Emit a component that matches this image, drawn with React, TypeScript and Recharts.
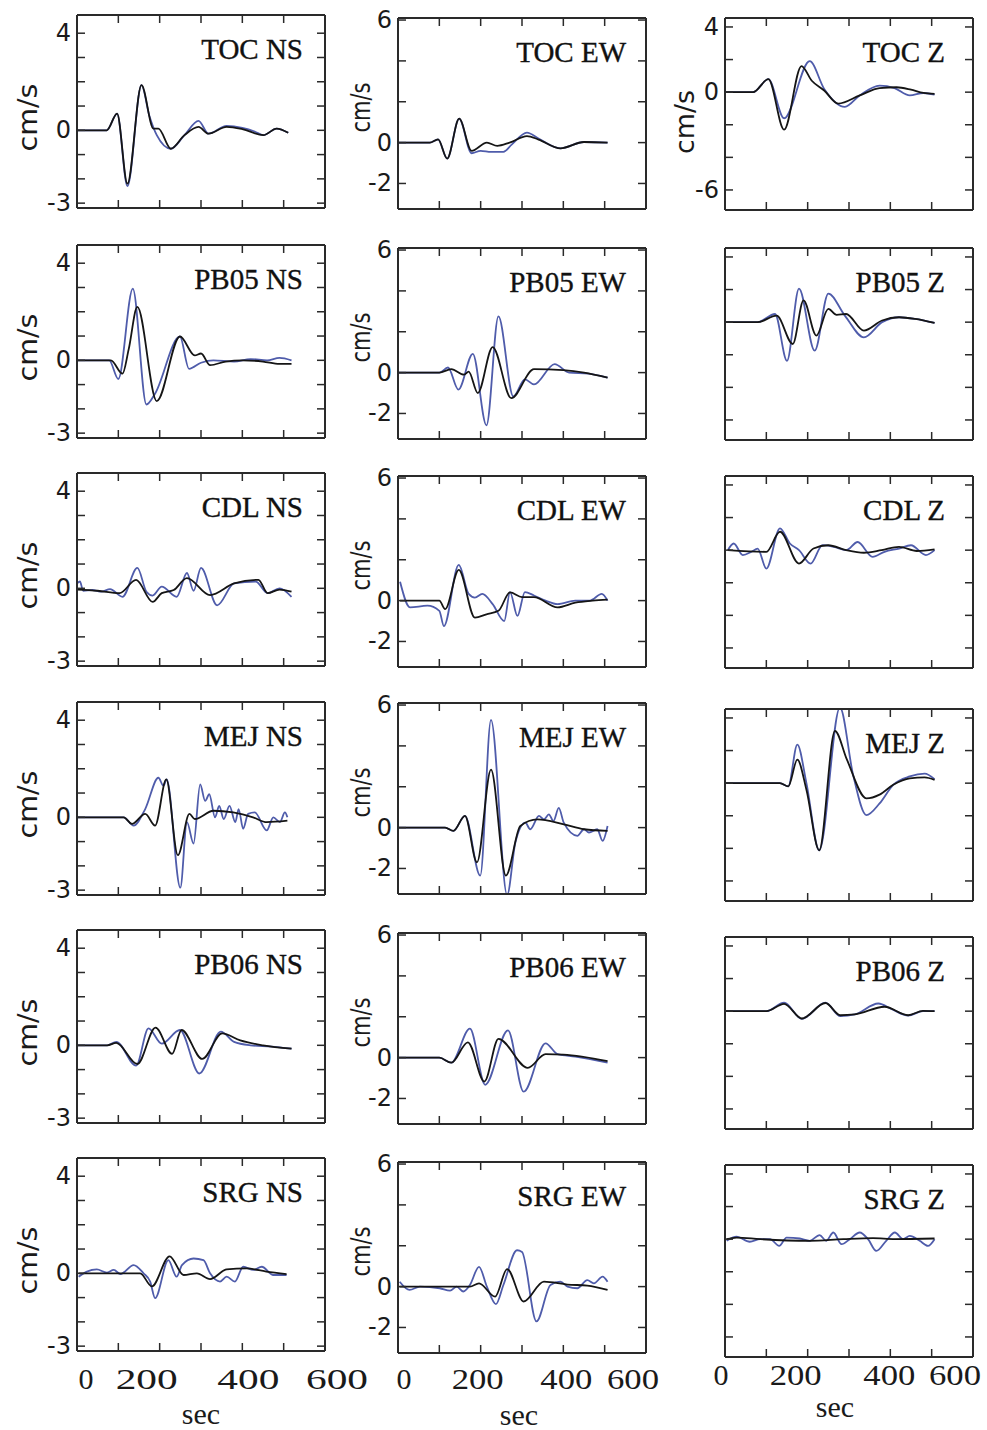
import React from "react";
import { LineChart, Line, XAxis, YAxis } from "recharts";

// Observed (blue) vs synthetic (black) velocity traces, [sec, cm/s] pairs
type Pt = [number, number];

const OBS = "#4f5cab";
const SYN = "#151515";
const FRAME = "#2a2a2a";
const SERIF = "'Liberation Serif', 'Times New Roman', serif";
const SANS = "'DejaVu Sans', 'Open Sans', sans-serif";

const stations = ["TOC", "PB05", "CDL", "MEJ", "PB06", "SRG"];
const components = ["NS", "EW", "Z"];

const xTicks = [0, 100, 200, 300, 400, 500, 600];
const xLabels = [0, 200, 400, 600];

const nsTicks = [-3, -2, -1, 0, 1, 2, 3, 4];
const nsLabels = [4, 0, -3];
const ewTicks = [-2, 0, 2, 4, 6];
const ewLabels = [6, 0, -2];
const zTicks = [-6, -4, -2, 0, 2, 4];
const zLabels = [4, 0, -6];

// ---- TOC
const tocNsObs: Pt[] = [[0, 0], [72, 0], [97, 0.69], [122, -2.3], [156, 1.86], [175, 0.6], [193, -0.2], [227, -0.76], [260, -0.2], [294, 0.39], [318, -0.14], [362, 0.18], [400, 0.1], [430, -0.05], [451, -0.2], [483, 0.07], [511, -0.1]];
const tocNsSyn: Pt[] = [[0, 0], [72, 0], [97, 0.69], [122, -2.2], [156, 1.86], [185, 0.07], [197, 0.07], [227, -0.76], [260, -0.2], [294, 0.14], [318, -0.14], [362, 0.14], [400, 0.05], [451, -0.2], [483, 0.07], [511, -0.1]];
const tocEwObs: Pt[] = [[0, 0], [77, 0], [97, 0.16], [119, -0.78], [148, 1.17], [178, -0.52], [200, -0.4], [225, -0.45], [255, -0.45], [275, -0.1], [312, 0.49], [340, 0.2], [393, -0.28], [450, 0.03], [507, 0]];
const tocEwSyn: Pt[] = [[0, 0], [77, 0], [97, 0.16], [119, -0.78], [148, 1.17], [178, -0.4], [215, 0], [240, -0.16], [270, 0], [312, 0.32], [340, 0.15], [393, -0.28], [450, 0.03], [507, 0]];
const tocZObs: Pt[] = [[0, 0], [68, 0], [105, 0.8], [143, -1.6], [205, 1.9], [240, 0.2], [290, -0.9], [326, -0.2], [374, 0.4], [410, 0.25], [447, -0.2], [480, -0.05], [507, -0.15]];
const tocZSyn: Pt[] = [[0, 0], [68, 0], [105, 0.8], [143, -2.3], [185, 1.6], [210, 0.7], [240, 0.1], [274, -0.7], [326, -0.2], [374, 0.25], [415, 0.3], [450, 0.15], [480, -0.05], [507, -0.1]];

// ---- PB05
const pb05NsObs: Pt[] = [[0, 0], [78, 0], [100, -0.77], [135, 2.95], [168, -1.82], [188, -1.4], [249, 0.98], [271, -0.35], [300, -0.1], [330, 0], [380, -0.05], [420, 0.05], [460, 0], [490, 0.1], [519, 0]];
const pb05NsSyn: Pt[] = [[0, 0], [82, 0], [110, -0.55], [125, 0.45], [146, 2.2], [193, -1.68], [249, 0.98], [285, 0.2], [300, 0.28], [322, -0.2], [360, -0.05], [400, 0], [450, -0.05], [490, -0.15], [519, -0.15]];
const pb05EwObs: Pt[] = [[0, 0], [100, 0], [121, 0.25], [146, -0.83], [181, 0.92], [214, -2.58], [243, 2.75], [279, -1.17], [307, -0.33], [329, -0.58], [379, 0.42], [414, 0], [460, -0.05], [507, -0.25]];
const pb05EwSyn: Pt[] = [[0, 0], [100, 0], [129, 0.17], [160, -0.1], [171, 0.05], [193, -1.0], [229, 1.25], [274, -1.25], [329, 0.17], [400, 0.12], [450, 0], [507, -0.25]];
const pb05ZObs: Pt[] = [[0, 0], [79, 0], [121, 0.5], [150, -2.37], [179, 2.06], [217, -1.75], [250, 1.75], [290, 0.4], [336, -0.93], [380, 0], [421, 0.3], [460, 0.2], [507, -0.05]];
const pb05ZSyn: Pt[] = [[0, 0], [79, 0], [125, 0.4], [164, -1.34], [190, 1.34], [221, -0.82], [250, 0.82], [270, 0.45], [293, 0.5], [336, -0.52], [380, 0.1], [421, 0.3], [460, 0.2], [507, -0.05]];

// ---- CDL
const cdlNsObs: Pt[] = [[0, 0.2], [7, 0.28], [15, -0.1], [37, -0.07], [59, -0.14], [80, -0.03], [110, -0.35], [146, 0.84], [168, -0.14], [183, -0.3], [205, 0.07], [241, -0.35], [266, 0.63], [282, -0.1], [300, 0.84], [339, -0.7], [380, 0.2], [432, 0.28], [461, -0.2], [490, 0], [519, -0.35]];
const cdlNsSyn: Pt[] = [[0, -0.05], [50, -0.1], [103, -0.2], [143, 0.35], [183, -0.56], [205, -0.2], [234, -0.07], [266, 0.42], [322, -0.28], [380, 0.2], [439, 0.35], [461, -0.2], [490, -0.05], [519, -0.14]];
const cdlEwObs: Pt[] = [[5, 0.92], [29, -0.33], [71, -0.25], [100, -0.5], [111, -1.25], [147, 1.75], [171, 0.33], [186, 0.15], [204, 0.33], [229, -0.17], [257, -1.0], [271, 0.42], [289, -0.75], [307, 0.42], [329, 0.25], [357, 0], [386, -0.17], [429, 0], [464, 0], [493, 0.33], [507, 0]];
const cdlEwSyn: Pt[] = [[5, 0], [100, 0], [114, -0.42], [147, 1.5], [186, -0.83], [214, -0.67], [243, -0.5], [271, 0.4], [300, 0.17], [329, 0.17], [386, -0.33], [429, -0.1], [471, 0], [507, 0.05]];
const cdlZObs: Pt[] = [[7, 0], [21, 0.41], [43, -0.3], [64, -0.1], [79, 0.1], [100, -1.13], [133, 1.34], [157, 0.41], [179, 0], [207, -0.82], [236, 0.31], [264, 0.2], [293, 0], [321, 0.5], [357, -0.41], [386, -0.1], [421, 0.1], [450, 0.3], [486, -0.3], [507, 0]];
const cdlZSyn: Pt[] = [[7, 0], [100, -0.1], [133, 1.13], [179, -0.82], [214, 0.1], [250, 0.3], [293, 0], [336, -0.16], [379, 0], [421, 0.2], [464, -0.05], [507, 0.05]];

// ---- MEJ
const mejNsObs: Pt[] = [[0, 0], [113, 0], [137, -0.34], [165, 0.34], [197, 1.63], [209, 1.3], [217, 1.56], [250, -2.9], [266, -0.2], [282, -1.08], [298, 1.36], [310, 0.68], [320, 0.95], [334, 0], [344, 0.47], [355, -0.07], [369, 0.47], [383, -0.2], [391, 0.34], [402, -0.47], [414, 0.14], [430, 0.2], [459, -0.54], [475, 0], [491, -0.2], [503, 0.2], [509, 0]];
const mejNsSyn: Pt[] = [[0, 0], [113, 0], [133, -0.27], [165, 0.14], [189, -0.34], [216, 1.56], [244, -1.56], [272, 0.14], [285, -0.07], [330, 0.27], [378, 0.2], [426, 0], [459, -0.2], [509, -0.14]];
const mejEwObs: Pt[] = [[0, 0], [114, 0], [134, -0.16], [162, 0.57], [199, -2.35], [225, 5.27], [264, -3.3], [284, -0.73], [308, 0.24], [320, -0.08], [341, 0.57], [353, 0.4], [365, 0.65], [376, 0.32], [389, 0.97], [401, 0.24], [434, -0.4], [450, -0.08], [462, -0.24], [482, -0.08], [495, -0.65], [507, 0.08]];
const mejEwSyn: Pt[] = [[0, 0], [114, 0], [134, -0.16], [162, 0.57], [191, -1.7], [225, 2.84], [261, -2.35], [296, 0.08], [337, 0.4], [401, 0.16], [450, -0.08], [507, -0.16]];
const mejZObs: Pt[] = [[0, 0], [133, 0], [153, -0.2], [175, 2.37], [197, 0], [228, -4.12], [278, 4.64], [310, 0.5], [342, -1.96], [374, -1.24], [407, -0.1], [447, 0.41], [483, 0.58], [507, 0.25]];
const mejZSyn: Pt[] = [[0, 0], [133, 0], [153, -0.2], [175, 1.44], [197, -0.4], [228, -4.12], [266, 3.2], [295, 1.44], [342, -0.93], [374, -0.7], [407, -0.1], [447, 0.3], [483, 0.35], [507, 0.2]];

// ---- PB06
const pb06NsObs: Pt[] = [[0, 0], [73, 0], [95, 0.14], [143, -0.84], [173, 0.7], [205, 0.07], [249, 0.63], [296, -1.16], [348, 0.56], [380, 0.14], [420, 0], [470, -0.05], [519, -0.14]];
const pb06NsSyn: Pt[] = [[0, 0], [73, 0], [95, 0.1], [146, -0.77], [190, 0.73], [230, -0.35], [253, 0.63], [303, -0.56], [351, 0.49], [395, 0.2], [450, 0], [519, -0.14]];
const pb06EwObs: Pt[] = [[0, 0], [100, 0], [129, -0.25], [174, 1.42], [211, -1.33], [266, 1.33], [304, -1.67], [357, 0.7], [386, 0.17], [429, 0.05], [507, -0.25]];
const pb06EwSyn: Pt[] = [[0, 0], [100, 0], [129, -0.25], [169, 0.75], [209, -1.17], [243, 0.92], [314, -0.5], [357, 0.17], [400, 0.15], [507, -0.17]];
const pb06ZObs: Pt[] = [[0, 0], [100, 0], [143, 0.52], [186, -0.47], [243, 0.52], [279, -0.31], [314, -0.2], [371, 0.47], [405, 0.1], [443, -0.27], [479, 0], [507, 0]];
const pb06ZSyn: Pt[] = [[0, 0], [100, 0], [143, 0.45], [186, -0.45], [243, 0.5], [279, -0.25], [314, -0.2], [386, 0.27], [443, -0.25], [479, 0.02], [507, 0]];

// ---- SRG
const srgNsObs: Pt[] = [[4, -0.14], [24, 0.07], [48, 0.16], [72, 0.03], [89, 0.14], [105, -0.03], [137, 0.34], [161, 0], [177, -0.34], [189, -1.02], [221, 0.54], [241, -0.14], [254, 0.34], [282, 0.61], [306, 0.54], [322, 0], [346, -0.34], [362, -0.14], [382, -0.34], [402, 0.27], [427, 0.14], [447, 0.27], [475, -0.07], [507, -0.07]];
const srgNsSyn: Pt[] = [[4, 0], [100, 0], [153, 0], [181, -0.54], [224, 0.7], [258, -0.07], [290, 0], [322, -0.24], [362, 0.16], [410, 0.2], [458, 0.07], [507, -0.03]];
const srgEwObs: Pt[] = [[4, 0.24], [28, -0.16], [53, 0], [101, -0.08], [126, -0.2], [142, 0], [158, -0.24], [174, 0.08], [196, 0.97], [215, 0], [237, -0.86], [255, 0.08], [288, 1.78], [300, 1.7], [335, -1.7], [369, 0.08], [393, 0.24], [410, 0], [434, -0.08], [458, 0.32], [474, 0.16], [495, 0.49], [507, 0.24]];
const srgEwSyn: Pt[] = [[4, 0], [174, 0], [196, 0.16], [235, -0.49], [264, 0.86], [304, -0.73], [353, 0.24], [410, 0.1], [458, 0.05], [507, -0.16]];
const srgZObs: Pt[] = [[4, -0.1], [28, 0.16], [60, -0.16], [85, 0], [109, 0], [131, -0.41], [149, 0.1], [181, 0.04], [205, -0.1], [229, 0.25], [245, -0.1], [262, 0.41], [282, -0.31], [302, 0], [326, 0.41], [346, 0], [366, -0.72], [390, -0.1], [411, 0.41], [431, 0], [447, 0.2], [471, -0.1], [491, -0.41], [507, 0]];
const srgZSyn: Pt[] = [[4, 0], [28, 0.1], [85, 0], [205, -0.1], [286, 0], [358, 0.06], [411, 0], [507, 0.04]];

const traces: [Pt[], Pt[]][][] = [
  [[tocNsObs, tocNsSyn], [tocEwObs, tocEwSyn], [tocZObs, tocZSyn]],
  [[pb05NsObs, pb05NsSyn], [pb05EwObs, pb05EwSyn], [pb05ZObs, pb05ZSyn]],
  [[cdlNsObs, cdlNsSyn], [cdlEwObs, cdlEwSyn], [cdlZObs, cdlZSyn]],
  [[mejNsObs, mejNsSyn], [mejEwObs, mejEwSyn], [mejZObs, mejZSyn]],
  [[pb06NsObs, pb06NsSyn], [pb06EwObs, pb06EwSyn], [pb06ZObs, pb06ZSyn]],
  [[srgNsObs, srgNsSyn], [srgEwObs, srgEwSyn], [srgZObs, srgZSyn]],
];

// layout of each column (pixel positions of the plot frames)
const PAD_L = 75;
const PAD_T = 15;
const PAD_R = 45;
const PAD_B = 80;
const PLOT_W = 248;

const cols = [
  { left: 77, tops: [15, 245, 473, 702, 930, 1158], h: 193, domain: [-3.2, 4.75], ticks: nsTicks, labels: nsLabels, cmDx: -49, cmDy: 6, cmLen: 68, titleInset: 22, xLabDy: 27, xLabLen: 62, xLabDx: [9, -13, 6, 12], secDy: 62, secDx: 0 },
  { left: 398, tops: [18, 248, 476, 703, 933, 1162], h: 191, domain: [-3.25, 6.1], ticks: ewTicks, labels: ewLabels, cmDx: -37, cmDy: -6, cmLen: 50, titleInset: 20, xLabDy: 25, xLabLen: 52, xLabDx: [6, -3, 3, -13], secDy: 61, secDx: -3 },
  { left: 725, tops: [18, 248, 476, 709, 937, 1165], h: 192, domain: [-7.23, 4.55], ticks: zTicks, labels: zLabels, cmDx: -40, cmDy: 8, cmLen: 64, titleInset: 28, xLabDy: 17, xLabLen: 52, xLabDx: [-4, -12, -1, -18], secDy: 49, secDx: -14 },
];

const toPts = (arr: Pt[]) => arr.map(([t, v]) => ({ t, v }));
const blank = () => <g />;

function Panel({ row, col }: { row: number; col: number }) {
  const c = cols[col];
  const [obs, syn] = traces[row][col];
  const title = `${stations[row]} ${components[col]}`;
  const showY = col < 2 || row === 0;
  const showX = row === 5;
  const h = c.h;
  const plotBottom = PAD_T + h;

  const yTick = (p: any) => {
    const val = p.payload.value;
    if (!showY || !c.labels.includes(val)) return <g />;
    return (
      <text x={PAD_L - 6} y={p.y} textAnchor="end" dominantBaseline="central" fontFamily={SANS} fontSize={24} fill="#1a1a1a">
        {String(val)}
      </text>
    );
  };

  const xTick = (p: any) => {
    const val = p.payload.value;
    const idx = xLabels.indexOf(val);
    if (!showX || idx < 0) return <g />;
    const s = String(val);
    return (
      <text
        x={p.x + c.xLabDx[idx]}
        y={plotBottom + c.xLabDy}
        textAnchor="middle"
        dominantBaseline="central"
        fontFamily={SERIF}
        fontSize={30}
        fill="#1a1a1a"
        {...(s.length > 1 ? { textLength: c.xLabLen, lengthAdjust: "spacingAndGlyphs" } : {})}
      >
        {s}
      </text>
    );
  };

  const titleLabel = () => (
    <text
      x={PAD_L + PLOT_W - c.titleInset}
      y={PAD_T + 44}
      textAnchor="end"
      fontFamily={SERIF}
      fontSize={29}
      fill="#111"
      stroke="#111"
      strokeWidth={0.35}
    >
      {title}
    </text>
  );

  const cmLabel = () => {
    if (!showY) return <g />;
    const cx = PAD_L + c.cmDx;
    const cy = PAD_T + h / 2 + c.cmDy;
    return (
      <text
        x={cx}
        y={cy}
        transform={`rotate(-90, ${cx}, ${cy})`}
        textAnchor="middle"
        dominantBaseline="central"
        fontFamily={SANS}
        fontSize={26}
        fill="#1a1a1a"
        textLength={c.cmLen}
        lengthAdjust="spacingAndGlyphs"
      >
        cm/s
      </text>
    );
  };

  const secLabel = () => {
    if (!showX) return <g />;
    return (
      <text x={PAD_L + PLOT_W / 2 + c.secDx} y={plotBottom + c.secDy} textAnchor="middle" dominantBaseline="central" fontFamily={SERIF} fontSize={30} fill="#1a1a1a">
        sec
      </text>
    );
  };

  return (
    <div style={{ position: "absolute", left: c.left - PAD_L, top: c.tops[row] - PAD_T }}>
      <LineChart width={PAD_L + PLOT_W + PAD_R} height={PAD_T + h + PAD_B} margin={{ top: 0, right: 0, bottom: 0, left: 0 }}>
        <XAxis
          xAxisId="b"
          type="number"
          dataKey="t"
          domain={[0, 600]}
          allowDataOverflow
          ticks={xTicks}
          interval={0}
          height={PAD_B}
          tickSize={-8}
          tickMargin={0}
          tick={xTick}
          tickLine={{ stroke: FRAME, strokeWidth: 1.5 }}
          axisLine={{ stroke: FRAME, strokeWidth: 2 }}
          label={{ content: secLabel }}
        />
        <XAxis
          xAxisId="t"
          orientation="top"
          type="number"
          dataKey="t"
          domain={[0, 600]}
          allowDataOverflow
          ticks={xTicks}
          interval={0}
          height={PAD_T}
          tickSize={-8}
          tick={blank}
          tickLine={{ stroke: FRAME, strokeWidth: 1.5 }}
          axisLine={{ stroke: FRAME, strokeWidth: 2 }}
          label={{ content: titleLabel }}
        />
        <YAxis
          yAxisId="l"
          type="number"
          dataKey="v"
          domain={c.domain}
          allowDataOverflow
          ticks={c.ticks}
          interval={0}
          width={PAD_L}
          tickSize={-8}
          tick={yTick}
          tickLine={{ stroke: FRAME, strokeWidth: 1.5 }}
          axisLine={{ stroke: FRAME, strokeWidth: 2 }}
          label={{ content: cmLabel }}
        />
        <YAxis
          yAxisId="r"
          orientation="right"
          type="number"
          dataKey="v"
          domain={c.domain}
          allowDataOverflow
          ticks={c.ticks}
          interval={0}
          width={PAD_R}
          tickSize={-8}
          tick={blank}
          tickLine={{ stroke: FRAME, strokeWidth: 1.5 }}
          axisLine={{ stroke: FRAME, strokeWidth: 2 }}
        />
        <Line
          xAxisId="b"
          yAxisId="l"
          data={toPts(obs)}
          dataKey="v"
          type="monotone"
          stroke={OBS}
          strokeWidth={1.8}
          dot={false}
          isAnimationActive={false}
        />
        <Line
          xAxisId="t"
          yAxisId="r"
          data={toPts(syn)}
          dataKey="v"
          type="monotone"
          stroke={SYN}
          strokeWidth={1.8}
          dot={false}
          isAnimationActive={false}
        />
      </LineChart>
    </div>
  );
}

export default function App() {
  return (
    <div style={{ position: "absolute", left: 0, top: 0, width: 987, height: 1430, background: "#fff", overflow: "hidden" }}>
      {stations.map((_, r) =>
        components.map((__, c) => <Panel key={`${r}-${c}`} row={r} col={c} />)
      )}
    </div>
  );
}
